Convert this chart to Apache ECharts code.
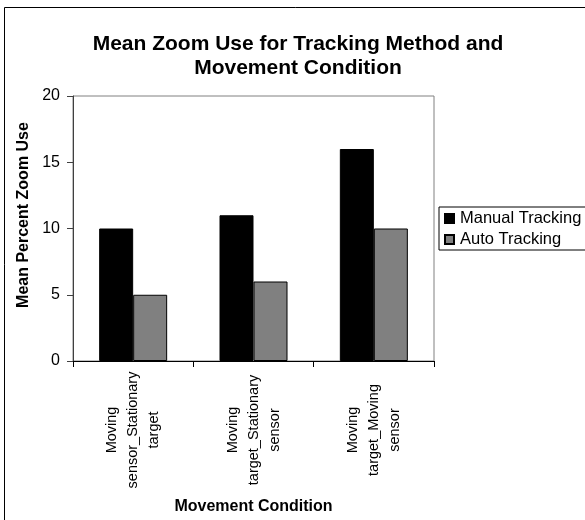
<!DOCTYPE html>
<html>
<head>
<meta charset="utf-8">
<script src="https://cdn.jsdelivr.net/npm/echarts@6/dist/echarts.min.js"></script>
<style>
html,body{margin:0;padding:0;background:#fff;}
#chart{width:585px;height:520px;}
</style>
</head>
<body>
<div id="chart"></div>
<script>
const titleText = 'Mean Zoom Use for Tracking Method and\nMovement Condition';
const categories = ['Moving\nsensor_Stationary\ntarget', 'Moving\ntarget_Stationary\nsensor', 'Moving\ntarget_Moving\nsensor'];
const seriesNames = ['Manual Tracking', 'Auto Tracking'];
const manualTracking = [10, 11, 16];
const autoTracking = [5, 6, 10];
const yMin = 0, yMax = 20, yInterval = 5;
const yTitle = 'Mean Percent Zoom Use';
const xTitle = 'Movement Condition';

const FONT = '"Liberation Sans", Arial, Helvetica, sans-serif';
const chart = echarts.init(document.getElementById('chart'), null, {renderer: 'canvas'});
chart.setOption({
  animation: false,
  backgroundColor: '#ffffff',
  title: {
    text: titleText,
    left: 298, top: 32, textAlign: 'center', padding: 0,
    textStyle: {fontFamily: FONT, fontSize: 21, fontWeight: 'bold', color: '#000', lineHeight: 24}
  },
  graphic: [
    {type: 'rect', silent: true, z: -1, shape: {x: 4.5, y: 7.5, width: 800, height: 800},
     style: {fill: 'none', stroke: '#000', lineWidth: 1}},
    {type: 'text', silent: true, x: 24, y: 215, rotation: Math.PI / 2,
     style: {text: yTitle, fontFamily: FONT, fontSize: 16, fontWeight: 'bold', fill: '#000',
             textAlign: 'center', textVerticalAlign: 'middle'}}
  ],
  legend: {
    orient: 'vertical', left: 439, top: 207,
    padding: [3, 20, 2, 5], itemGap: 4,
    itemWidth: 9, itemHeight: 9, icon: 'rect',
    borderColor: '#000', borderWidth: 1,
    textStyle: {fontFamily: FONT, fontSize: 16.5, color: '#000', padding: [0,0,0,1]},
    data: seriesNames
  },
  grid: {left: 73, right: 151, top: 96, bottom: 159, show: true, borderColor: '#808080', borderWidth: 1},
  xAxis: {
    type: 'category', data: categories,
    axisLine: {lineStyle: {color: '#000', width: 1}},
    axisTick: {show: true, length: 6, lineStyle: {color: '#000'}},
    axisLabel: {rotate: 90, margin: 69, align: 'center', verticalAlign: 'middle',
                fontFamily: FONT, fontSize: 14.5, lineHeight: 21, color: '#000'},
    name: xTitle, nameLocation: 'middle', nameGap: 138,
    nameTextStyle: {fontFamily: FONT, fontSize: 16, fontWeight: 'bold', color: '#000'}
  },
  yAxis: {
    type: 'value', min: yMin, max: yMax, interval: yInterval,
    axisLine: {show: true, lineStyle: {color: '#404040', width: 1}},
    axisTick: {show: true, length: 6, lineStyle: {color: '#404040'}},
    splitLine: {show: false},
    axisLabel: {margin: 13, fontFamily: FONT, fontSize: 16, color: '#000'}
  },
  series: [
    {name: seriesNames[0], type: 'bar', data: manualTracking, barWidth: 34, barGap: '0%',
     itemStyle: {color: '#000000', borderColor: '#000', borderWidth: 1}},
    {name: seriesNames[1], type: 'bar', data: autoTracking, barWidth: 34, barGap: '0%',
     itemStyle: {color: '#808080', borderColor: '#000', borderWidth: 1}}
  ]
});
</script>
</body>
</html>
